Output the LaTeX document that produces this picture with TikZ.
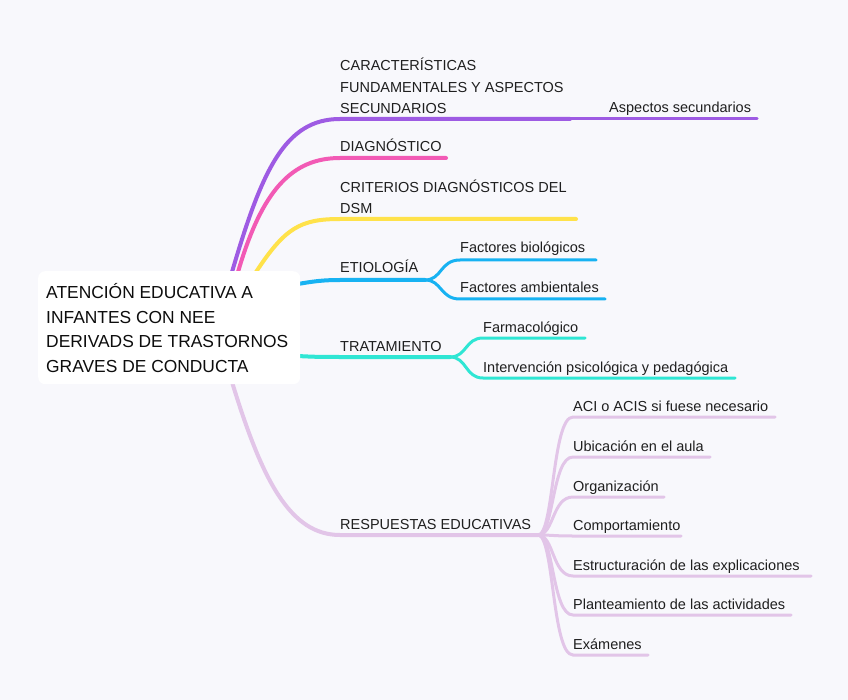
\documentclass[tikz,border=0pt]{standalone}
\usepackage{fontspec}
\setmainfont{Liberation Sans}
\begin{document}
\begin{tikzpicture}[x=1pt,y=-1pt,
  br/.style={line width=4pt,line cap=round},
  sub/.style={line width=3pt,line cap=round},
  lbl/.style={inner sep=0pt,anchor=base west,font=\fontsize{14.5}{21.5}\selectfont,text=black!88},
  rootbox/.style={fill=white,rounded corners=7pt,inner sep=0pt,minimum width=262pt,minimum height=113pt}
]
\definecolor{bg}{HTML}{F8F8FC}
\definecolor{cpurple}{HTML}{9E5BE3}
\definecolor{cpink}{HTML}{F25AB5}
\definecolor{cyellow}{HTML}{FFE24A}
\definecolor{cblue}{HTML}{17B2F2}
\definecolor{ccyan}{HTML}{2FE6D4}
\definecolor{clav}{HTML}{E2C5E8}
\fill[bg] (0,0) rectangle (848,700);
\useasboundingbox (0,0) rectangle (848,700);

% coordinates
\coordinate (r1) at (232,272);
\coordinate (r2) at (238,272);
\coordinate (r3) at (256,272);
\coordinate (r4) at (298,284);
\coordinate (r5) at (298,356);
\coordinate (r6) at (232,382);

\coordinate (p0) at (340,119);
\coordinate (p1) at (570,119);
\coordinate (p2) at (757,119);
\coordinate (k0) at (340,158);
\coordinate (k1) at (446,158);
\coordinate (y0) at (340,219);
\coordinate (y1) at (576,219);
\coordinate (b0) at (340,280);
\coordinate (bf) at (425,280);
\coordinate (b1s) at (460,260);
\coordinate (b1e) at (596,260);
\coordinate (b2s) at (460,299);
\coordinate (b2e) at (605,299);
\coordinate (c0) at (340,357);
\coordinate (cf) at (450,357);
\coordinate (c1s) at (483,338);
\coordinate (c1e) at (585,338);
\coordinate (c2s) at (483,378);
\coordinate (c2e) at (735,378);
\coordinate (l0) at (340,535);
\coordinate (lf) at (538,535);

% main branches
\draw[br,cpurple] (r1) .. controls (262,170) and (285,119) .. (p0) -- (p1);
\draw[sub,cpurple] (p1) -- (p2);
\draw[br,cpink] (r2) .. controls (262,190) and (292,158) .. (k0) -- (k1);
\draw[br,cyellow] (r3) .. controls (285,228) and (300,219) .. (y0) -- (y1);
\draw[br,cblue] (r4) .. controls (315,281) and (325,280) .. (b0) -- (bf);
\draw[sub,cblue] (bf) .. controls (442,280) and (440,260) .. (b1s) -- (b1e);
\draw[sub,cblue] (bf) .. controls (442,280) and (440,299) .. (b2s) -- (b2e);
\draw[br,ccyan] (r5) .. controls (315,357) and (325,357) .. (c0) -- (cf);
\draw[sub,ccyan] (cf) .. controls (467,357) and (465,338) .. (c1s) -- (c1e);
\draw[sub,ccyan] (cf) .. controls (467,357) and (465,378) .. (c2s) -- (c2e);
\draw[br,clav] (r6) .. controls (262,480) and (290,535) .. (l0) -- (lf);

\foreach \n/\yy/\xe in {a/417/775, b/457/710, c/497/664, d/536/681, e/576/811, f/615/791, g/655/648}{
  \coordinate (s\n) at (573,\yy);
  \coordinate (e\n) at (\xe,\yy);
  \draw[sub,clav] (lf) .. controls (554,535) and (552,\yy) .. (s\n) -- (e\n);
}

% root
\node[rootbox,anchor=north west] (root) at (38,271) {};
\node[inner sep=0pt,anchor=north west,align=left,font=\fontsize{17.4}{24.8}\selectfont,text=black!95] (roottxt) at (46,283)
 {ATENCIÓN EDUCATIVA A\\INFANTES CON NEE\\DERIVADS DE TRASTORNOS\\GRAVES DE CONDUCTA};

% labels
\node[lbl,align=left,anchor=south west] (car) at (340,114) {CARACTERÍSTICAS\\FUNDAMENTALES Y ASPECTOS\\SECUNDARIOS};
\node[lbl] (asp) at (609,113) {Aspectos secundarios};
\node[lbl] (diag) at (340,152) {DIAGNÓSTICO};
\node[lbl,align=left,anchor=south west] (crit) at (340,214) {CRITERIOS DIAGNÓSTICOS DEL\\DSM};
\node[lbl] (etio) at (340,273) {ETIOLOGÍA};
\node[lbl] (fb) at (460,253) {Factores biológicos};
\node[lbl] (fa) at (460,293) {Factores ambientales};
\node[lbl] (trat) at (340,351) {TRATAMIENTO};
\node[lbl] (farm) at (483,332) {Farmacológico};
\node[lbl] (inter) at (483,372) {Intervención psicológica y pedagógica};
\node[lbl] (resp) at (340,529) {RESPUESTAS EDUCATIVAS};
\node[lbl] (la) at (573,411) {ACI o ACIS si fuese necesario};
\node[lbl] (lb) at (573,451) {Ubicación en el aula};
\node[lbl] (lc) at (573,491) {Organización};
\node[lbl] (ld) at (573,530) {Comportamiento};
\node[lbl] (le) at (573,570) {Estructuración de las explicaciones};
\node[lbl] (lg) at (573,609) {Planteamiento de las actividades};
\node[lbl] (lh) at (573,649) {Exámenes};
\end{tikzpicture}
\end{document}
